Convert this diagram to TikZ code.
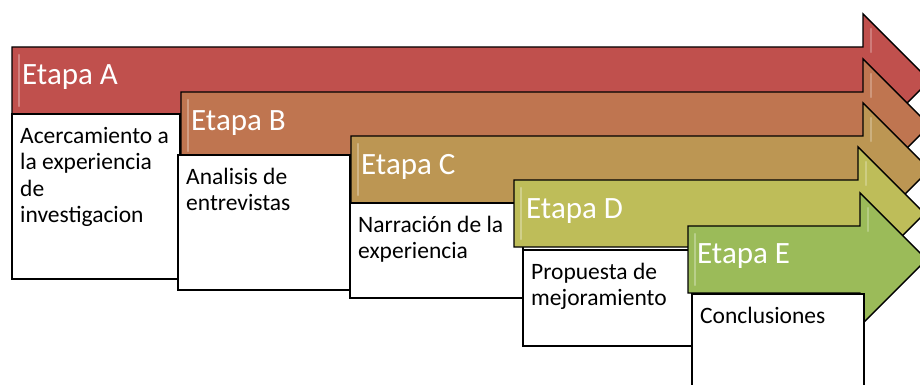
\documentclass[tikz,border=0pt]{standalone}
\usepackage{fontspec}
\setmainfont{Carlito}
\definecolor{cA}{RGB}{192,80,77}
\definecolor{cB}{RGB}{191,117,80}
\definecolor{cC}{RGB}{188,150,83}
\definecolor{cD}{RGB}{190,189,89}
\definecolor{cE}{RGB}{155,187,89}
\newcommand\etapaarrow[4]{%
  \draw[arrowshape, fill=#4] (#1,#2) -- (#3,#2) -- (#3,{#2-33}) -- ({#3+66.5},{#2+33.5})
    -- (#3,{#2+100}) -- (#3,{#2+67}) -- (#1,{#2+67}) -- cycle;
  \draw[white, opacity=0.3, line width=2.5pt, line cap=round]
    ({#1+7},{#2+8}) -- ({#1+7},{#2+59});
  \draw[white, opacity=0.25, line width=2.5pt, line cap=round]
    ({#3+8},{#2-18}) -- ({#3+8},{#2+5});
}
\begin{document}
\begin{tikzpicture}[x=1pt,y=-1pt,
  arrowshape/.style={draw=black, line width=1.4pt, line join=miter},
  stagebox/.style={draw=black, fill=white, line width=1.4pt, anchor=north west, inner sep=0pt, outer sep=0pt},
  titletext/.style={anchor=base west, inner sep=0pt, text=white, font=\fontsize{31}{36}\selectfont},
  bodytext/.style={anchor=base west, inner sep=0pt, align=left, text=black, font=\fontsize{23.5}{26.5}\selectfont}]
\useasboundingbox (0,0) rectangle (920,385);
\clip (0,0) rectangle (920,385);
% Etapa A
\etapaarrow{12}{47}{863}{cA}
\node[titletext] (tA) at (22,85) {Etapa A};
\node[stagebox, minimum width=168pt, minimum height=165pt] (bA) at (12,114) {};
\node[bodytext] (xA) at (20,222.5) {Acercamiento a\\la experiencia\\de\\investigacion};
% Etapa B
\etapaarrow{181}{92}{863}{cB}
\node[titletext] (tB) at (191,130) {Etapa B};
\node[stagebox, minimum width=172pt, minimum height=135pt] (bB) at (178,155) {};
\node[bodytext] (xB) at (186,210.5) {Analisis de\\entrevistas};
% Etapa C
\etapaarrow{351}{136}{863}{cC}
\node[titletext] (tC) at (361,174) {Etapa C};
\node[stagebox, minimum width=173pt, minimum height=95pt] (bC) at (350,203) {};
\node[bodytext] (xC) at (358,258.5) {Narración de la\\experiencia};
% Etapa D
\etapaarrow{514}{180}{858}{cD}
\node[titletext] (tD) at (526,218) {Etapa D};
\node[stagebox, minimum width=169pt, minimum height=96pt] (bD) at (523,250) {};
\node[bodytext] (xD) at (531,305.5) {Propuesta de\\mejoramiento};
% Etapa E
\etapaarrow{688}{226}{860}{cE}
\node[titletext] (tE) at (697,263) {Etapa E};
\node[stagebox, minimum width=172pt, minimum height=120pt] (bE) at (692,294) {};
\node[bodytext] (xE) at (700,323) {Conclusiones};
\end{tikzpicture}
\end{document}
